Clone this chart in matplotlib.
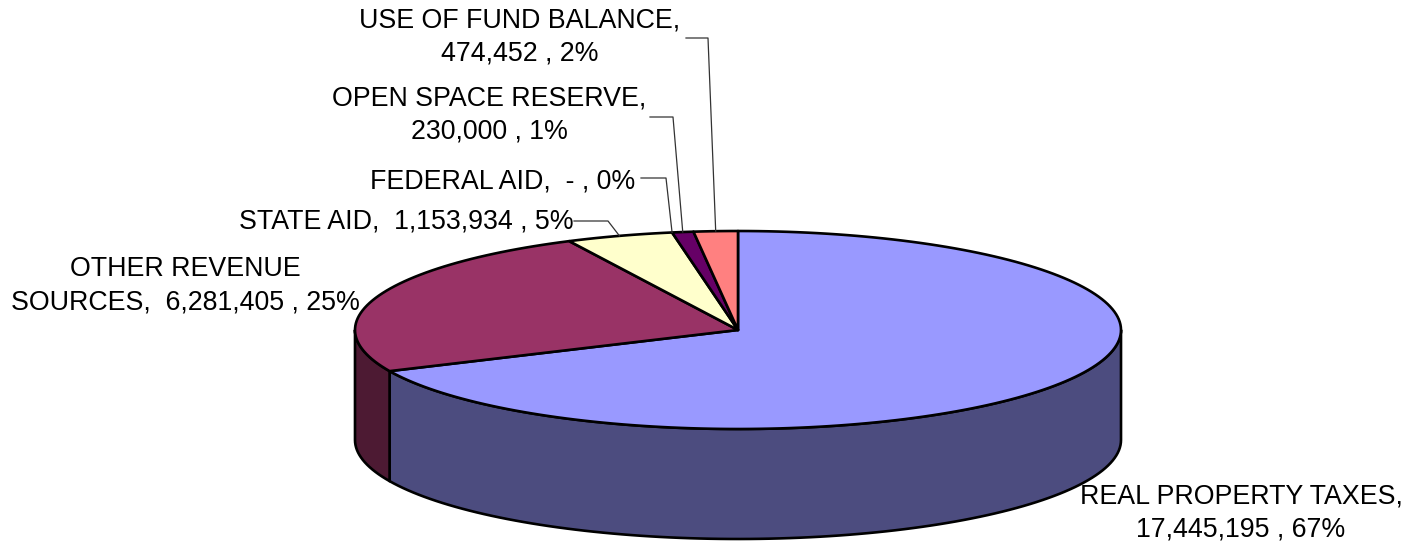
"""
3D-style revenue pie chart (Excel look), drawn with patches.
"""

import matplotlib
matplotlib.use("Agg")
import matplotlib.pyplot as plt
from matplotlib.patches import Polygon
import numpy as np


# data, in slice order (clockwise from 12 o'clock)
categories = [
    "REAL PROPERTY TAXES",
    "OTHER REVENUE SOURCES",
    "STATE AID",
    "FEDERAL AID",
    "OPEN SPACE RESERVE",
    "USE OF FUND BALANCE",
]
amounts = [17445195, 6281405, 1153934, 0, 230000, 474452]
label_text = [
    "REAL PROPERTY TAXES,\n17,445,195 , 67%",
    "OTHER REVENUE\nSOURCES,  6,281,405 , 25%",
    "STATE AID,  1,153,934 , 5%",
    "FEDERAL AID,  - , 0%",
    "OPEN SPACE RESERVE,\n230,000 , 1%",
    "USE OF FUND BALANCE,\n474,452 , 2%",
]

top_colors = ["#9999FF", "#993366", "#FFFFCC", "#CCFFFF", "#660066", "#FF8080"]
side_colors = ["#4C4C7F", "#4D1A33", "#80806A", "#6A8080", "#330033", "#804040"]

# pie geometry in pixel units (axes span the whole figure)
CX, CY = 738, 330
RX, RY = 383, 99
DEPTH = 110

# label placement: (text x, text y, leader elbow points before the pie anchor)
label_layout = [
    (1241, 513, None),
    (185, 286, None),
    (406, 222, [(574, 221), (608, 221)]),
    (503, 181, [(641, 178), (666, 178)]),
    (489, 115, [(650, 117), (673, 117)]),
    (520, 37, [(686, 38), (708, 38)]),
]


def ell(t_deg, drop=0.0):
    t = np.radians(t_deg)
    return CX + RX * np.cos(t), CY - RY * np.sin(t) + drop


def arc(t0, t1, drop=0.0, n=240):
    ts = np.linspace(t0, t1, max(2, int(n * abs(t1 - t0) / 360) + 2))
    xs, ys = ell(ts, drop)
    return np.column_stack([xs, ys])


def main():
    plt.rcParams["font.family"] = ["Liberation Sans", "DejaVu Sans"]
    fig = plt.figure(figsize=(14.09, 5.5), dpi=100)
    ax = fig.add_axes([0, 0, 1, 1])
    ax.set_xlim(0, 1409)
    ax.set_ylim(550, 0)
    ax.axis("off")

    fracs = np.array(amounts, dtype=float) / sum(amounts)
    ends = 90 - 360 * np.cumsum(fracs)
    starts = np.concatenate([[90], ends[:-1]])

    # side walls (front half of the ellipse: t in [-180, 0])
    for s, e, col in zip(starts, ends, side_colors):
        a, b = min(s, 0), max(e, -180)
        if a <= b:
            continue
        top = arc(a, b)
        bot = arc(b, a, drop=DEPTH)
        ax.add_patch(Polygon(np.vstack([top, bot]), closed=True,
                             facecolor=col, edgecolor="black", lw=1.9,
                             joinstyle="round"))

    # top faces
    for s, e, col in zip(starts, ends, top_colors):
        if s == e:
            continue
        pts = np.vstack([[CX, CY], arc(s, e)])
        ax.add_patch(Polygon(pts, closed=True, facecolor=col,
                             edgecolor="black", lw=1.9, joinstyle="round"))

    # labels and leader lines
    for i, (tx, ty, leader) in enumerate(label_layout):
        ax.text(tx, ty, label_text[i], ha="center", va="center",
                fontsize=19.3, color="black", linespacing=1.36)
        if leader:
            mid = (starts[i] + ends[i]) / 2
            px, py = ell(mid)
            pts = np.array(leader + [(px, py)])
            ax.plot(pts[:, 0], pts[:, 1], color="#333333", lw=0.9)

    fig.savefig("out.png", dpi=100)
    plt.close(fig)


if __name__ == "__main__":
    main()
